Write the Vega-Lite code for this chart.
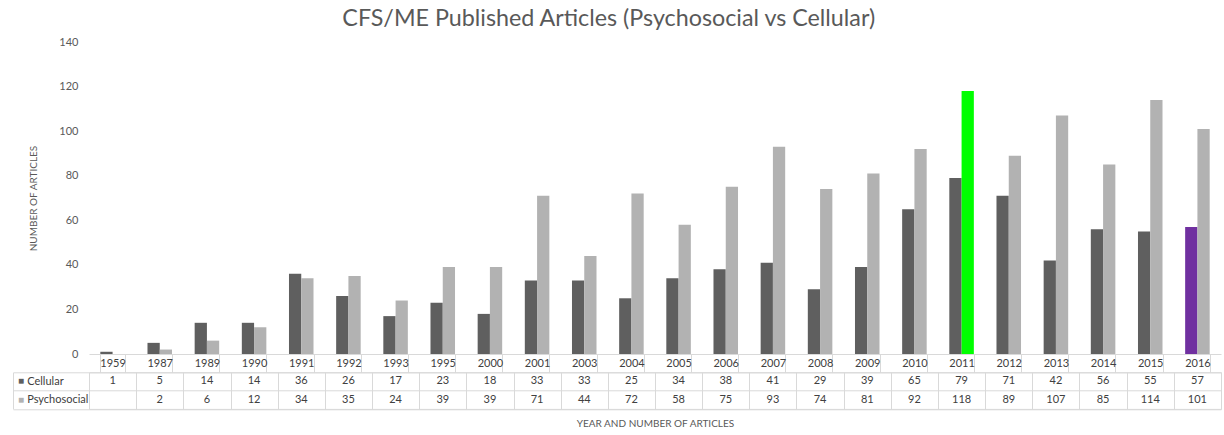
{
  "$schema": "https://vega.github.io/schema/vega-lite/v6.json",
  "background": "white",
  "padding": {"left": 12, "top": 6, "right": 2, "bottom": 2},
  "title": {"text": "CFS/ME Published Articles (Psychosocial vs Cellular)", "font": "Lato", "fontSize": 23.3, "fontWeight": "normal", "color": "#595959", "anchor": "middle", "dx": -8, "offset": 5},
  "config": {"font": "Lato", "view": {"stroke": null}},
  "data": {"values": [
    {"year": "1959", "series": "Cellular", "value": 1},
    {"year": "1987", "series": "Cellular", "value": 5}, {"year": "1987", "series": "Psychosocial", "value": 2},
    {"year": "1989", "series": "Cellular", "value": 14}, {"year": "1989", "series": "Psychosocial", "value": 6},
    {"year": "1990", "series": "Cellular", "value": 14}, {"year": "1990", "series": "Psychosocial", "value": 12},
    {"year": "1991", "series": "Cellular", "value": 36}, {"year": "1991", "series": "Psychosocial", "value": 34},
    {"year": "1992", "series": "Cellular", "value": 26}, {"year": "1992", "series": "Psychosocial", "value": 35},
    {"year": "1993", "series": "Cellular", "value": 17}, {"year": "1993", "series": "Psychosocial", "value": 24},
    {"year": "1995", "series": "Cellular", "value": 23}, {"year": "1995", "series": "Psychosocial", "value": 39},
    {"year": "2000", "series": "Cellular", "value": 18}, {"year": "2000", "series": "Psychosocial", "value": 39},
    {"year": "2001", "series": "Cellular", "value": 33}, {"year": "2001", "series": "Psychosocial", "value": 71},
    {"year": "2003", "series": "Cellular", "value": 33}, {"year": "2003", "series": "Psychosocial", "value": 44},
    {"year": "2004", "series": "Cellular", "value": 25}, {"year": "2004", "series": "Psychosocial", "value": 72},
    {"year": "2005", "series": "Cellular", "value": 34}, {"year": "2005", "series": "Psychosocial", "value": 58},
    {"year": "2006", "series": "Cellular", "value": 38}, {"year": "2006", "series": "Psychosocial", "value": 75},
    {"year": "2007", "series": "Cellular", "value": 41}, {"year": "2007", "series": "Psychosocial", "value": 93},
    {"year": "2008", "series": "Cellular", "value": 29}, {"year": "2008", "series": "Psychosocial", "value": 74},
    {"year": "2009", "series": "Cellular", "value": 39}, {"year": "2009", "series": "Psychosocial", "value": 81},
    {"year": "2010", "series": "Cellular", "value": 65}, {"year": "2010", "series": "Psychosocial", "value": 92},
    {"year": "2011", "series": "Cellular", "value": 79}, {"year": "2011", "series": "Psychosocial", "value": 118},
    {"year": "2012", "series": "Cellular", "value": 71}, {"year": "2012", "series": "Psychosocial", "value": 89},
    {"year": "2013", "series": "Cellular", "value": 42}, {"year": "2013", "series": "Psychosocial", "value": 107},
    {"year": "2014", "series": "Cellular", "value": 56}, {"year": "2014", "series": "Psychosocial", "value": 85},
    {"year": "2015", "series": "Cellular", "value": 55}, {"year": "2015", "series": "Psychosocial", "value": 114},
    {"year": "2016", "series": "Cellular", "value": 57}, {"year": "2016", "series": "Psychosocial", "value": 101}
  ]},
  "spacing": 18.3,
  "bounds": "flush",
  "resolve": {"scale": {"x": "independent", "y": "independent", "color": "independent"}},
  "vconcat": [
    {
      "width": 1132,
      "height": 312,
      "mark": {"type": "bar"},
      "encoding": {
        "x": {"field": "year", "type": "nominal", "sort": null,
          "scale": {"paddingInner": 0.48, "paddingOuter": 0.24},
          "axis": {"title": null, "orient": "bottom", "tickBand": "extent", "tickSize": 18.3, "tickColor": "#d9d9d9", "domainColor": "#d9d9d9", "labelAngle": 0, "labelBaseline": "middle", "labelPadding": -9.15, "labelFontSize": 11, "labelColor": "#404040", "grid": false}},
        "xOffset": {"field": "series", "type": "nominal", "scale": {"domain": ["Cellular", "Psychosocial"], "paddingInner": 0, "paddingOuter": 0}},
        "y": {"field": "value", "type": "quantitative", "stack": null,
          "scale": {"domain": [0, 140], "nice": false},
          "axis": {"values": [0, 20, 40, 60, 80, 100, 120, 140], "title": "NUMBER OF ARTICLES", "titleFontSize": 10, "titleFontWeight": "normal", "titleColor": "#595959", "labelFontSize": 11, "labelColor": "#595959", "domain": false, "ticks": false, "grid": false, "labelPadding": 11, "titlePadding": 20}},
        "color": {
          "condition": [
            {"test": "datum.year === '2011' && datum.series === 'Psychosocial'", "value": "#00ff00"},
            {"test": "datum.year === '2016' && datum.series === 'Cellular'", "value": "#7030a0"}
          ],
          "field": "series", "type": "nominal",
          "scale": {"domain": ["Cellular", "Psychosocial"], "range": ["#5f5f5f", "#b2b2b2"]},
          "legend": null}
      }
    },
    {
      "width": 1132,
      "height": 36.6,
      "view": {"stroke": "#d9d9d9"},
      "layer": [
        {
          "mark": {"type": "text", "fontSize": 11, "color": "#404040"},
          "encoding": {
            "x": {"field": "year", "type": "nominal", "sort": null,
              "scale": {"paddingInner": 0, "paddingOuter": 0},
              "axis": {"title": "YEAR AND NUMBER OF ARTICLES", "titleFontSize": 10, "titleFontWeight": "normal", "titleColor": "#595959", "titlePadding": 10, "labels": false, "ticks": false, "domain": false, "grid": true, "gridColor": "#d9d9d9", "tickBand": "extent"}},
            "y": {"field": "series", "type": "nominal",
              "scale": {"domain": ["Cellular", "Psychosocial"], "paddingInner": 0, "paddingOuter": 0},
              "axis": {"title": null, "orient": "left", "tickBand": "extent", "ticks": true, "tickSize": 76, "tickColor": "#d9d9d9", "domain": false, "grid": true, "gridColor": "#d9d9d9", "labelAlign": "left", "labelBaseline": "middle", "labelPadding": -13.7, "labelFontSize": 11, "labelColor": "#404040"}},
            "text": {"field": "value", "type": "quantitative"}
          }
        },
        {
          "mark": {"type": "point", "opacity": 0},
          "encoding": {
            "y": {"field": "series", "type": "nominal",
              "axis": {"title": null, "orient": "left", "offset": 76, "domain": true, "domainColor": "#d9d9d9", "ticks": false, "grid": false, "labelExpr": "'■'", "labelAlign": "left", "labelBaseline": "middle", "labelPadding": -4.4, "labelFontSize": 10, "labelColor": {"condition": {"test": "datum.value === 'Cellular'", "value": "#5f5f5f"}, "value": "#b2b2b2"}}}
          }
        }
      ],
      "resolve": {"axis": {"y": "independent"}}
    }
  ]
}
